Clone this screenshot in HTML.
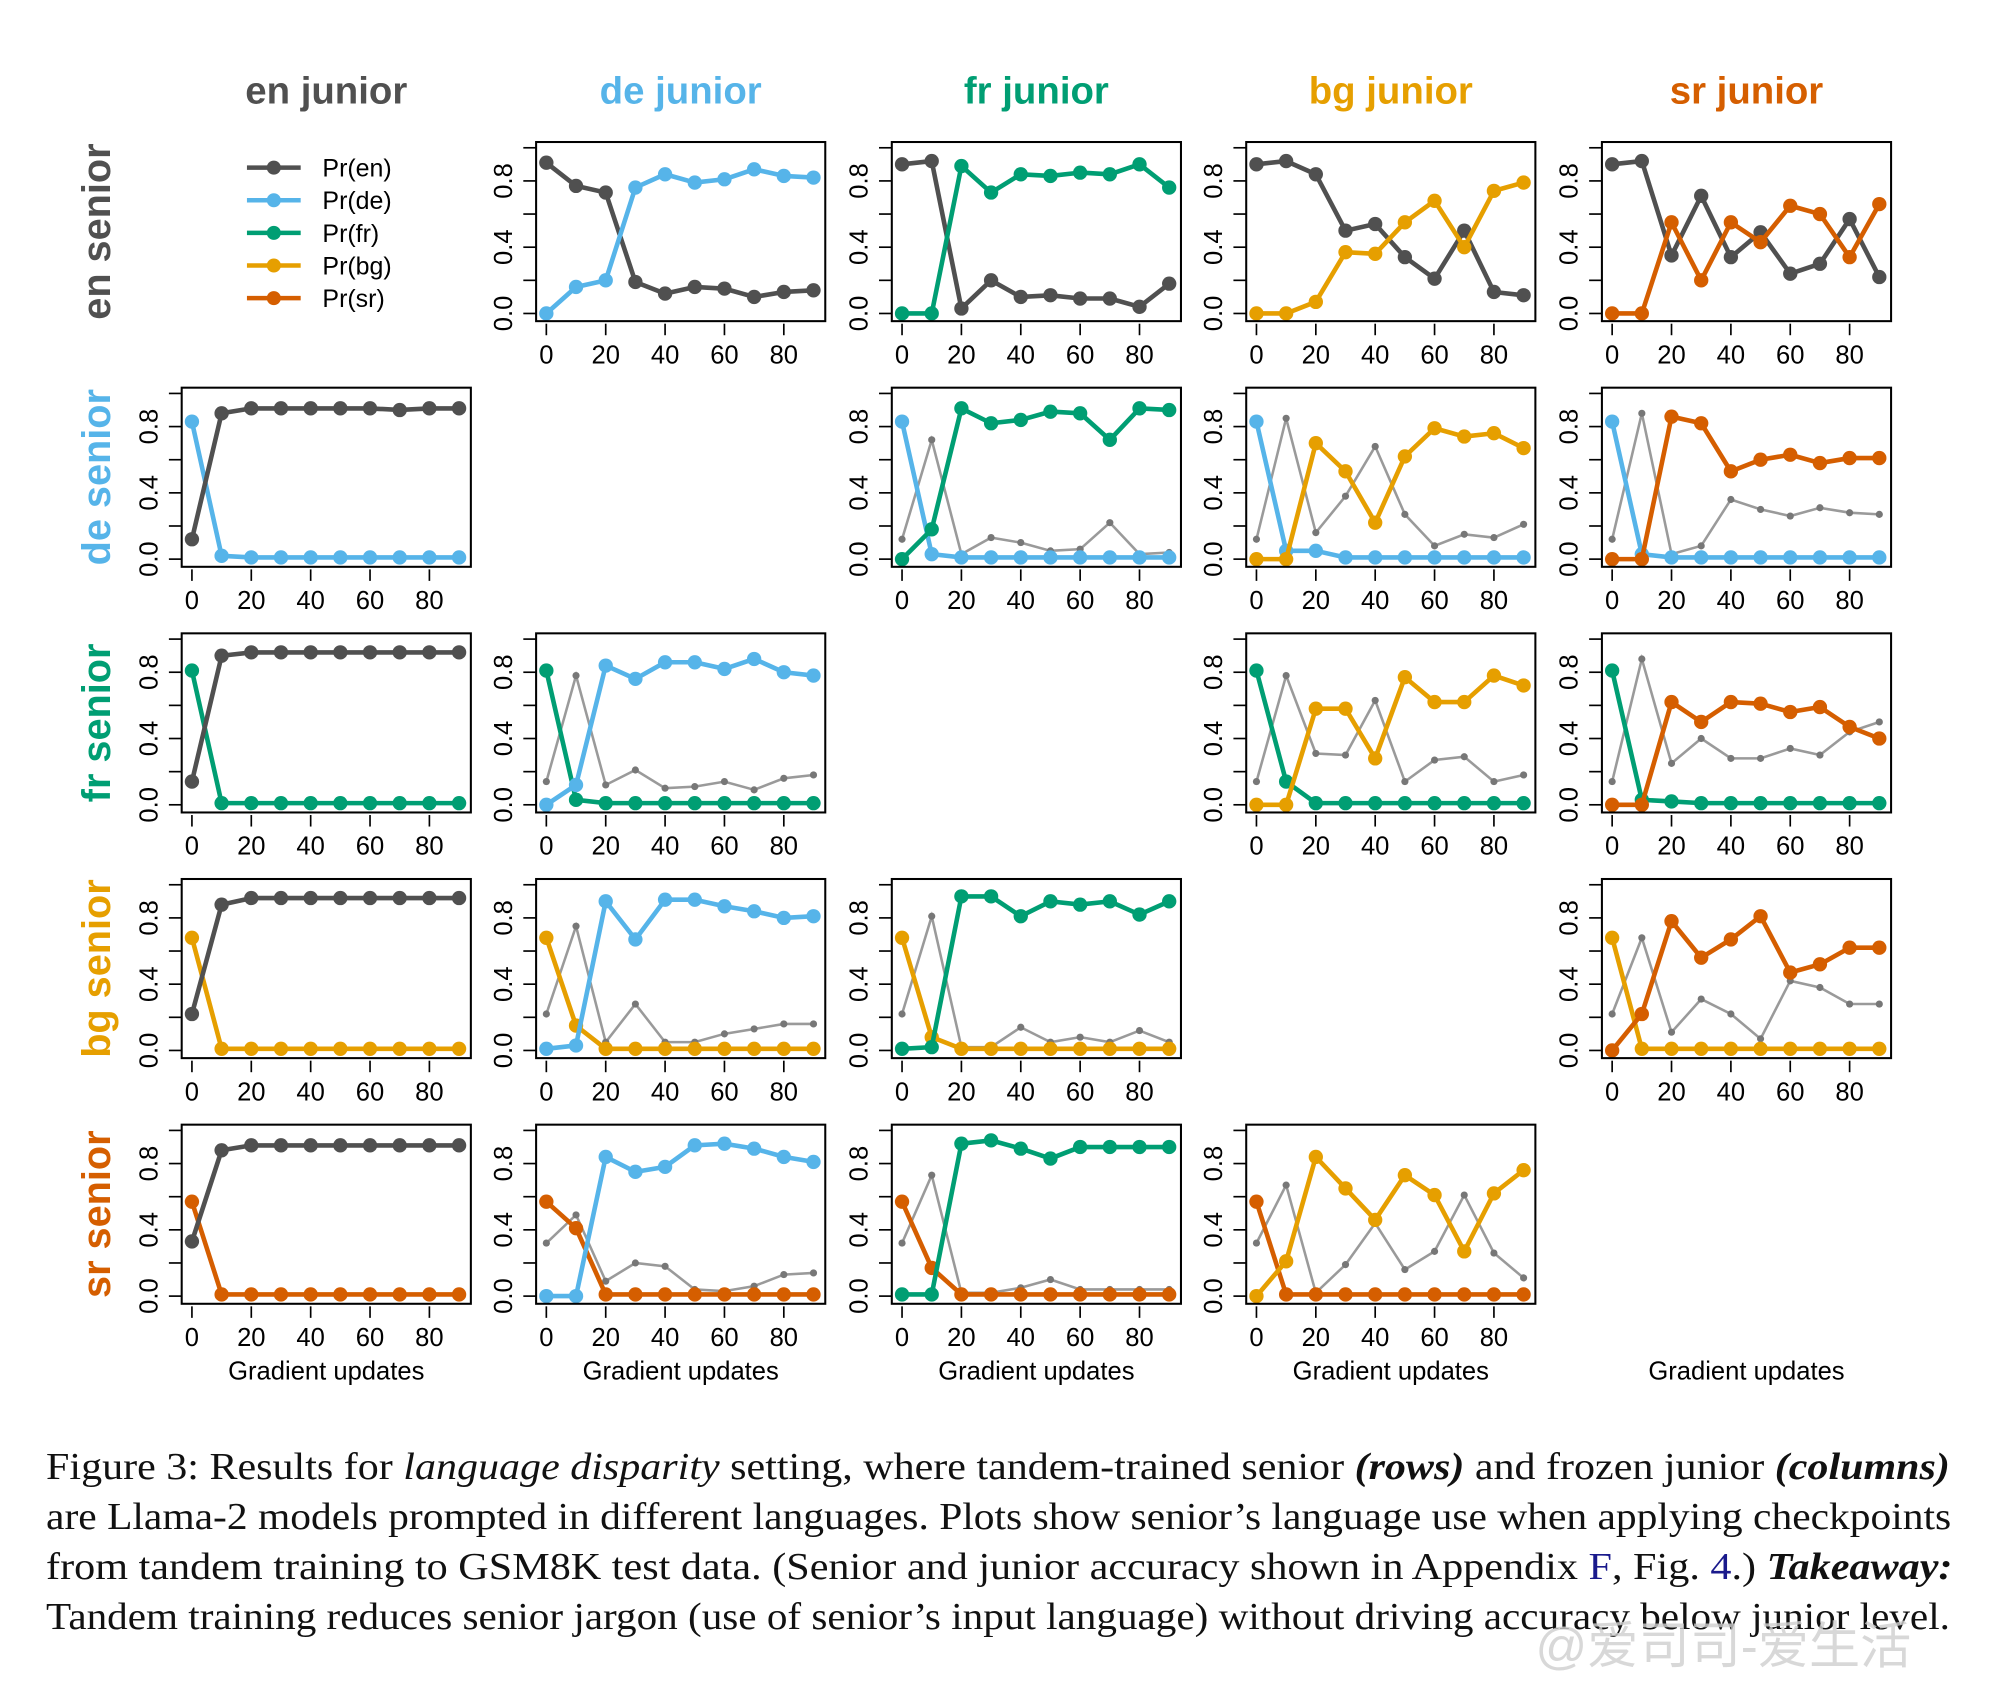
<!DOCTYPE html>
<html><head><meta charset="utf-8">
<style>
html,body{margin:0;padding:0;background:#fff;}
svg{display:block;}
text{font-family:"Liberation Sans",Arial,sans-serif;}
.cap{font-family:"Liberation Serif","Times New Roman",serif;font-size:29.5px;fill:#111;}
</style></head>
<body>
<svg id="fig" width="1996" height="1682" viewBox="0 0 1560 1314.6" xmlns="http://www.w3.org/2000/svg">
<rect x="0" y="0" width="1560" height="1314.6" fill="#fff"/>
<g id="plots"></g>
<g>
<text class="cap" x="36" y="1156" textLength="1488" lengthAdjust="spacingAndGlyphs">Figure 3: Results for <tspan font-style="italic">language disparity</tspan> setting, where tandem-trained senior <tspan font-style="italic" font-weight="bold">(rows)</tspan> and frozen junior <tspan font-style="italic" font-weight="bold">(columns)</tspan></text>
<text class="cap" x="36" y="1195" textLength="1489" lengthAdjust="spacingAndGlyphs">are Llama-2 models prompted in different languages. Plots show senior’s language use when applying checkpoints</text>
<text class="cap" x="36" y="1234" textLength="1490" lengthAdjust="spacingAndGlyphs">from tandem training to GSM8K test data. (Senior and junior accuracy shown in Appendix <tspan fill="#1a1a8c">F</tspan>, Fig. <tspan fill="#1a1a8c">4</tspan>.) <tspan font-style="italic" font-weight="bold">Takeaway:</tspan></text>
<text class="cap" x="36" y="1273" textLength="1488" lengthAdjust="spacingAndGlyphs">Tandem training reduces senior jargon (use of senior’s input language) without driving accuracy below junior level.</text>
</g>
<text x="1200" y="1300" font-size="40" fill="#cfcfcf" opacity="0.8" style="font-family:'Liberation Sans','Noto Sans CJK SC',sans-serif">@爱司司-爱生活</text>
</svg>
<script>
const langs = ['en','de','fr','bg','sr'];
const colors = {en:'#505050',de:'#56B4E9',fr:'#009E73',bg:'#E69F00',sr:'#D55E00'};
const steps = [0,10,20,30,40,50,60,70,80,90];
const xTicks = [0,20,40,60,80];
const yTicks = [0,0.2,0.4,0.6,0.8,1.0];
const yLabels = ['0.0','','0.4','','0.8',''];

// row 0: en senior
const r0c1_en = [.91,.77,.73,.19,.12,.16,.15,.10,.13,.14];
const r0c1_de = [0,.16,.20,.76,.84,.79,.81,.87,.83,.82];
const r0c2_en = [.90,.92,.03,.20,.10,.11,.09,.09,.04,.18];
const r0c2_fr = [0,0,.89,.73,.84,.83,.85,.84,.90,.76];
const r0c3_en = [.90,.92,.84,.50,.54,.34,.21,.50,.13,.11];
const r0c3_bg = [0,0,.07,.37,.36,.55,.68,.40,.74,.79];
const r0c4_en = [.90,.92,.35,.71,.34,.49,.24,.30,.57,.22];
const r0c4_sr = [0,0,.55,.20,.55,.43,.65,.60,.34,.66];
// row 1: de senior
const r1c0_de = [.83,.02,.01,.01,.01,.01,.01,.01,.01,.01];
const r1c0_en = [.12,.88,.91,.91,.91,.91,.91,.90,.91,.91];
const r1c2_en = [.12,.72,.03,.13,.10,.05,.06,.22,.03,.04];
const r1c2_de = [.83,.03,.01,.01,.01,.01,.01,.01,.01,.01];
const r1c2_fr = [0,.18,.91,.82,.84,.89,.88,.72,.91,.90];
const r1c3_en = [.12,.85,.16,.38,.68,.27,.08,.15,.13,.21];
const r1c3_de = [.83,.05,.05,.01,.01,.01,.01,.01,.01,.01];
const r1c3_bg = [0,0,.70,.53,.22,.62,.79,.74,.76,.67];
const r1c4_en = [.12,.88,.03,.08,.36,.30,.26,.31,.28,.27];
const r1c4_de = [.83,.03,.01,.01,.01,.01,.01,.01,.01,.01];
const r1c4_sr = [0,0,.86,.82,.53,.60,.63,.58,.61,.61];
// row 2: fr senior
const r2c0_fr = [.81,.01,.01,.01,.01,.01,.01,.01,.01,.01];
const r2c0_en = [.14,.90,.92,.92,.92,.92,.92,.92,.92,.92];
const r2c1_en = [.14,.78,.12,.21,.10,.11,.14,.09,.16,.18];
const r2c1_fr = [.81,.03,.01,.01,.01,.01,.01,.01,.01,.01];
const r2c1_de = [0,.12,.84,.76,.86,.86,.82,.88,.80,.78];
const r2c3_en = [.14,.78,.31,.30,.63,.14,.27,.29,.14,.18];
const r2c3_fr = [.81,.14,.01,.01,.01,.01,.01,.01,.01,.01];
const r2c3_bg = [0,0,.58,.58,.28,.77,.62,.62,.78,.72];
const r2c4_en = [.14,.88,.25,.40,.28,.28,.34,.30,.44,.50];
const r2c4_fr = [.81,.03,.02,.01,.01,.01,.01,.01,.01,.01];
const r2c4_sr = [0,0,.62,.50,.62,.61,.56,.59,.47,.40];
// row 3: bg senior
const r3c0_bg = [.68,.01,.01,.01,.01,.01,.01,.01,.01,.01];
const r3c0_en = [.22,.88,.92,.92,.92,.92,.92,.92,.92,.92];
const r3c1_en = [.22,.75,.05,.28,.05,.05,.10,.13,.16,.16];
const r3c1_bg = [.68,.15,.01,.01,.01,.01,.01,.01,.01,.01];
const r3c1_de = [.01,.03,.90,.67,.91,.91,.87,.84,.80,.81];
const r3c2_en = [.22,.81,.02,.02,.14,.05,.08,.05,.12,.05];
const r3c2_bg = [.68,.08,.01,.01,.01,.01,.01,.01,.01,.01];
const r3c2_fr = [.01,.02,.93,.93,.81,.90,.88,.90,.82,.90];
const r3c4_en = [.22,.68,.11,.31,.22,.07,.42,.38,.28,.28];
const r3c4_bg = [.68,.01,.01,.01,.01,.01,.01,.01,.01,.01];
const r3c4_sr = [0,.22,.78,.56,.67,.81,.47,.52,.62,.62];
// row 4: sr senior
const r4c0_sr = [.57,.01,.01,.01,.01,.01,.01,.01,.01,.01];
const r4c0_en = [.33,.88,.91,.91,.91,.91,.91,.91,.91,.91];
const r4c1_en = [.32,.49,.09,.20,.18,.04,.03,.06,.13,.14];
const r4c1_sr = [.57,.41,.01,.01,.01,.01,.01,.01,.01,.01];
const r4c1_de = [0,0,.84,.75,.78,.91,.92,.89,.84,.81];
const r4c2_en = [.32,.73,.02,.02,.05,.10,.04,.04,.04,.04];
const r4c2_sr = [.57,.17,.01,.01,.01,.01,.01,.01,.01,.01];
const r4c2_fr = [.01,.01,.92,.94,.89,.83,.90,.90,.90,.90];
const r4c3_en = [.32,.67,.02,.19,.44,.16,.27,.61,.26,.11];
const r4c3_sr = [.57,.01,.01,.01,.01,.01,.01,.01,.01,.01];
const r4c3_bg = [0,.21,.84,.65,.46,.73,.61,.27,.62,.76];

const panels = [
 [0,1,[['en',r0c1_en,0],['de',r0c1_de,0]]],
 [0,2,[['en',r0c2_en,0],['fr',r0c2_fr,0]]],
 [0,3,[['en',r0c3_en,0],['bg',r0c3_bg,0]]],
 [0,4,[['en',r0c4_en,0],['sr',r0c4_sr,0]]],
 [1,0,[['de',r1c0_de,0],['en',r1c0_en,0]]],
 [1,2,[['en',r1c2_en,1],['de',r1c2_de,0],['fr',r1c2_fr,0]]],
 [1,3,[['en',r1c3_en,1],['de',r1c3_de,0],['bg',r1c3_bg,0]]],
 [1,4,[['en',r1c4_en,1],['de',r1c4_de,0],['sr',r1c4_sr,0]]],
 [2,0,[['fr',r2c0_fr,0],['en',r2c0_en,0]]],
 [2,1,[['en',r2c1_en,1],['fr',r2c1_fr,0],['de',r2c1_de,0]]],
 [2,3,[['en',r2c3_en,1],['fr',r2c3_fr,0],['bg',r2c3_bg,0]]],
 [2,4,[['en',r2c4_en,1],['fr',r2c4_fr,0],['sr',r2c4_sr,0]]],
 [3,0,[['bg',r3c0_bg,0],['en',r3c0_en,0]]],
 [3,1,[['en',r3c1_en,1],['bg',r3c1_bg,0],['de',r3c1_de,0]]],
 [3,2,[['en',r3c2_en,1],['bg',r3c2_bg,0],['fr',r3c2_fr,0]]],
 [3,4,[['en',r3c4_en,1],['bg',r3c4_bg,0],['sr',r3c4_sr,0]]],
 [4,0,[['sr',r4c0_sr,0],['en',r4c0_en,0]]],
 [4,1,[['en',r4c1_en,1],['sr',r4c1_sr,0],['de',r4c1_de,0]]],
 [4,2,[['en',r4c2_en,1],['sr',r4c2_sr,0],['fr',r4c2_fr,0]]],
 [4,3,[['en',r4c3_en,1],['sr',r4c3_sr,0],['bg',r4c3_bg,0]]]
];

const NS='http://www.w3.org/2000/svg';
const root=document.getElementById('plots');
const colLeft=[142,419,697,974,1252], rowTop=[111,303,495,687,879];
const BW=226, BH=140;
function mk(tag,attrs,parent){const e=document.createElementNS(NS,tag);for(const k in attrs)e.setAttribute(k,attrs[k]);(parent||root).appendChild(e);return e;}
function xS(c,v){return colLeft[c]+8+v*2.32;}
function yS(r,v){return rowTop[r]+134-v*129.5;}

langs.forEach((l,i)=>{
  const t=mk('text',{x:colLeft[i]+113,y:81,'text-anchor':'middle','font-size':30,'font-weight':'bold',fill:colors[l]});
  
  
  t.textContent=l+' junior';
});
langs.forEach((l,i)=>{
  const cy=rowTop[i]+70;
  const t=mk('text',{x:0,y:0,transform:'translate(86,'+cy+') rotate(-90)','text-anchor':'middle','font-size':31,'font-weight':'bold',fill:colors[l]});
  
  
  t.textContent=l+' senior';
});
langs.forEach((l,i)=>{
  const t=mk('text',{x:colLeft[i]+113,y:1078,'text-anchor':'middle','font-size':20,fill:'#000'});
  
  
  t.textContent='Gradient updates';
});
const leg=mk('g',{});


langs.forEach((l,i)=>{
  const y=131+i*25.5;
  const g=mk('g',{},leg);
  
  
  mk('line',{x1:193,x2:235,y1:y,y2:y,stroke:colors[l],'stroke-width':3.5},g);
  mk('circle',{cx:214,cy:y,r:5.5,fill:colors[l]},g);
  const t=mk('text',{x:252,y:y+7,'font-size':19.5,fill:'#000'},g);
  t.textContent='Pr('+l+')';
});

panels.forEach(p=>{
  const r=p[0],c=p[1],series=p[2];
  const g=mk('g',{});
  
  
  const L=colLeft[c],T=rowTop[r];
  yTicks.forEach((v,i)=>{
    const y=yS(r,v);
    mk('line',{x1:L-10,x2:L,y1:y,y2:y,stroke:'#000','stroke-width':1.3},g);
    if(yLabels[i]){
      const t=mk('text',{x:0,y:0,transform:'translate('+(L-19)+','+y+') rotate(-90)','text-anchor':'middle','font-size':20,fill:'#000'},g);
      
      
      t.textContent=yLabels[i];
    }
  });
  xTicks.forEach(v=>{
    const x=xS(c,v);
    mk('line',{x1:x,x2:x,y1:T+BH+2,y2:T+BH+11,stroke:'#000','stroke-width':1.3},g);
    const t=mk('text',{x:x,y:T+BH+33,'text-anchor':'middle','font-size':20,fill:'#000'},g);
    
    
    t.textContent=v;
  });
  series.forEach(s=>{
    const l=s[0],vals=s[1],thin=s[2];
    const pts=vals.map((v,i)=>xS(c,steps[i]).toFixed(1)+','+yS(r,v).toFixed(1)).join(' ');
    const sg=mk('g',{},g);
    
    
    if(thin){
      mk('polyline',{points:pts,fill:'none',stroke:'#9a9a9a','stroke-width':2},sg);
      vals.forEach((v,i)=>mk('circle',{cx:xS(c,steps[i]),cy:yS(r,v),r:2.8,fill:'#777'},sg));
    } else {
      mk('polyline',{points:pts,fill:'none',stroke:colors[l],'stroke-width':3.6,'stroke-linejoin':'round'},sg);
      vals.forEach((v,i)=>mk('circle',{cx:xS(c,steps[i]),cy:yS(r,v),r:5.6,fill:colors[l]},sg));
    }
  });
  const b=mk('rect',{x:L,y:T,width:BW,height:BH,fill:'none',stroke:'#000','stroke-width':1.6},g);
  
  
});
</script>
</body></html>
